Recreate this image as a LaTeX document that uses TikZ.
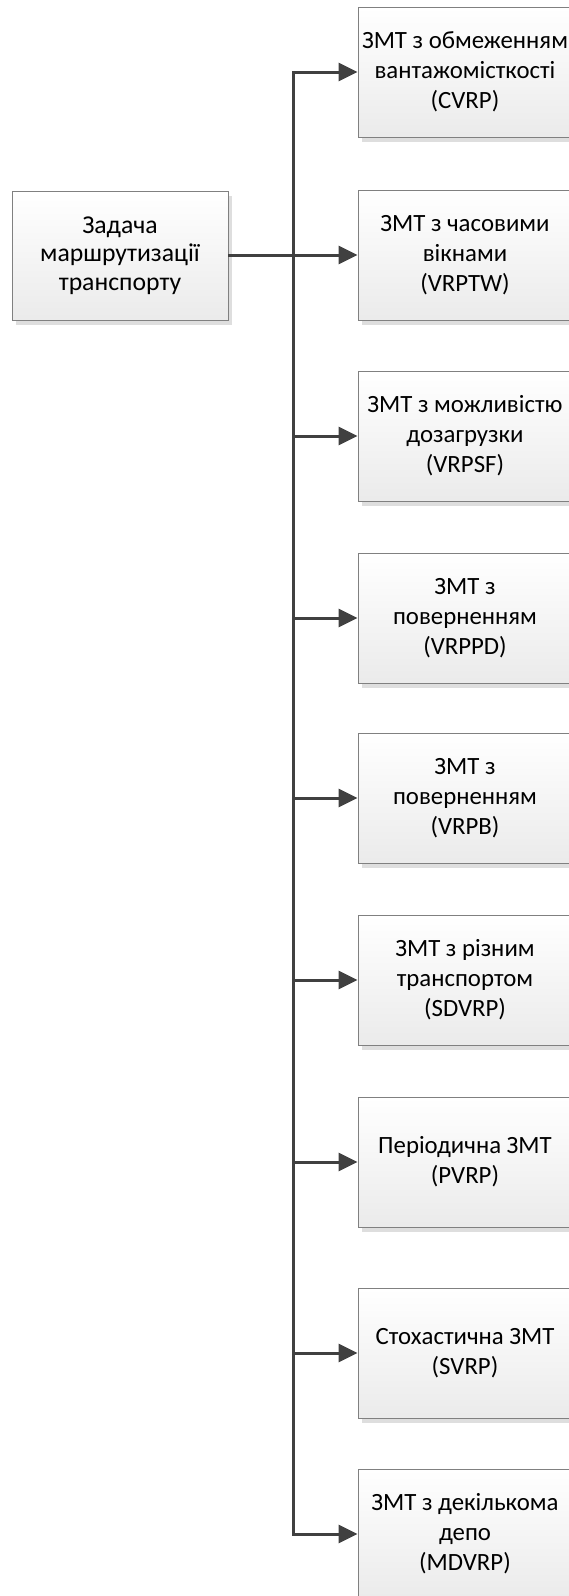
\documentclass[tikz,border=0pt]{standalone}
\usepackage{fontspec}
\setmainfont{Carlito}
\usetikzlibrary{arrows.meta,shadows}

\tikzset{
  zbox/.style={draw=black!50, line width=0.8pt, top color=white, bottom color=black!8,
    minimum width=214pt, minimum height=130pt, inner sep=0pt, align=center,
    font=\fontsize{24.8}{30}\selectfont,
    drop shadow={shadow xshift=4pt, shadow yshift=-5pt, fill=black!13, opacity=1}},
  zline/.style={draw=black!75, line width=3pt},
  ztip/.style={-{Triangle[length=19pt,width=18pt]}}
}

\begin{document}
\begin{tikzpicture}[x=1pt,y=-1pt]
                \useasboundingbox (0,0) rectangle (569,1596);
                \clip (0,0) rectangle (569,1596);

                \node [zbox, minimum width=216pt, minimum height=129pt, font=\fontsize{25.7}{28.5}\selectfont] (zadacha) at (120,255.5) {Задача\\маршрутизації\\транспорту};
                \coordinate (spine) at (293,0);

                \foreach \n/\y/\txt in {1/72/{ЗМТ з обмеженням\\вантажомісткості\\(CVRP)},
                                        2/255/{ЗМТ з часовими\\вікнами\\(VRPTW)},
                                        3/436/{ЗМТ з можливістю\\дозагрузки\\(VRPSF)},
                                        4/618/{ЗМТ з\\поверненням\\(VRPPD)},
                                        5/798/{ЗМТ з\\поверненням\\(VRPB)},
                                        6/980/{ЗМТ з різним\\транспортом\\(SDVRP)},
                                        7/1162/{Періодична ЗМТ\\(PVRP)},
                                        8/1353/{Стохастична ЗМТ\\(SVRP)},
                                        9/1534/{ЗМТ з декількома\\депо\\(MDVRP)}} {
                    \node [zbox] (b\n) at (465,\y) {\txt};
                }

                \draw [zline] (zadacha.east) -- (zadacha.east -| spine);
                \draw [zline, {Triangle[length=19pt,width=18pt]}-{Triangle[length=19pt,width=18pt]}]
                    (b1.west) -- (b1.west -| spine) -- (b9.west -| spine) -- (b9.west);
                \foreach \n in {2,...,8} {
                    \draw [zline, ztip] (b\n.west -| spine) -- (b\n.west);
                }
            \end{tikzpicture}
\end{document}
